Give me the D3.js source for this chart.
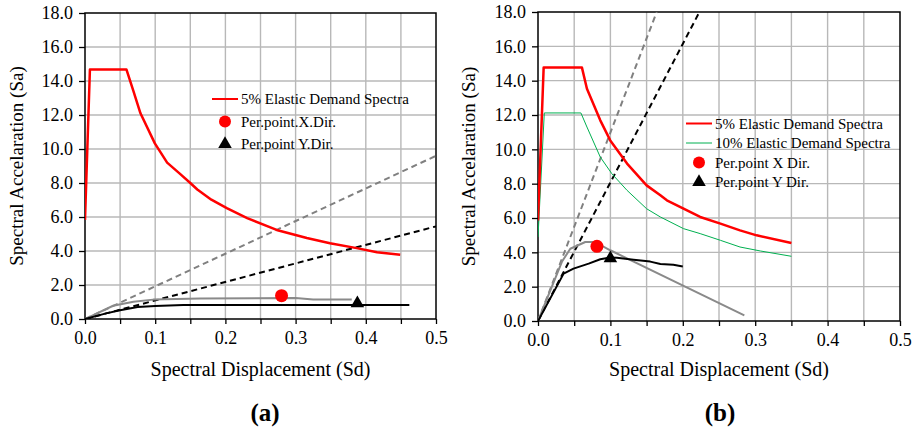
<!DOCTYPE html>
<html>
<head>
<meta charset="utf-8">
<script src="https://cdn.jsdelivr.net/npm/d3@7"></script>
<style>
  html, body { margin: 0; padding: 0; background: #fff; }
  svg { display: block; }
</style>
</head>
<body>
<svg id="chart" width="917" height="429" font-family="Liberation Serif"></svg>
<script>
const FONT = "Liberation Serif";

// ---- axis ticks ----
const xTicks = [0, 0.1, 0.2, 0.3, 0.4, 0.5];
const xGrid = [0.05, 0.1, 0.15, 0.2, 0.25, 0.3, 0.35, 0.4, 0.45];
const yTicks = [0, 2, 4, 6, 8, 10, 12, 14, 16, 18];

// ---- panel (a) ----
const demandA5 = [[0,5.83],[0.007,14.68],[0.059,14.68],[0.069,13.4],[0.079,12.1],[0.0995,10.33],
  [0.117,9.2],[0.135,8.55],[0.150,8.0],[0.160,7.62],[0.180,7.02],[0.202,6.52],[0.231,5.93],
  [0.273,5.24],[0.316,4.76],[0.349,4.46],[0.387,4.17],[0.416,3.93],[0.449,3.78]];
const capacityAX = [[0,0],[0.04,0.78],[0.069,1.02],[0.097,1.14],[0.164,1.21],[0.3,1.23],[0.325,1.15],[0.38,1.15]];
const capacityAY = [[0,0],[0.03,0.33],[0.05,0.52],[0.075,0.7],[0.1,0.76],[0.14,0.83],[0.462,0.83]];
const periodA1 = [[0,0],[0.5,9.6]];
const periodA2 = [[0,0],[0.5,5.45]];
const perfAX = [0.28, 1.37];
const perfAY = [0.388, 0.92];

// ---- panel (b) ----
const demandB5 = [[0,5.86],[0.0078,14.76],[0.0607,14.76],[0.0676,13.53],[0.086,11.69],[0.0998,10.52],
  [0.123,9.17],[0.150,7.9],[0.169,7.32],[0.178,7.03],[0.201,6.54],[0.224,6.06],[0.252,5.67],
  [0.279,5.28],[0.302,4.99],[0.350,4.54]];
const demandB10 = [[0,4.89],[0.0087,12.12],[0.0593,12.12],[0.0676,11.3],[0.086,9.55],[0.102,8.58],
  [0.123,7.61],[0.150,6.54],[0.169,6.06],[0.201,5.38],[0.224,5.09],[0.252,4.70],[0.279,4.31],
  [0.307,4.08],[0.350,3.77]];
const capacityBX = [[0,0],[0.033,3.45],[0.0446,4.21],[0.0653,4.6],[0.079,4.6],[0.0998,4.12],[0.285,0.33]];
const capacityBY = [[0,0],[0.0354,2.76],[0.049,3.05],[0.070,3.34],[0.086,3.6],[0.0998,3.7],[0.109,3.69],
  [0.132,3.57],[0.155,3.46],[0.169,3.32],[0.187,3.28],[0.2,3.18]];
const periodB1 = [[0,0],[0.164,18]];
const periodB2 = [[0,0],[0.223,18]];
const perfBX = [0.0814, 4.35];
const perfBY = [0.1, 3.65];

const legendA = ["5% Elastic Demand Spectra", "Per.point.X.Dir.", "Per.point Y.Dir."];
const legendB = ["5% Elastic Demand Spectra", "10% Elastic Demand Spectra", "Per.point X Dir.", "Per.point Y Dir."];

const svg = d3.select("#chart");

function panel(cfg) {
  const x = d3.scaleLinear().domain([0, 0.5]).range([cfg.x0, cfg.x1]);
  const y = d3.scaleLinear().domain([0, 18]).range([cfg.y0, cfg.y1]);
  const g = svg.append("g").attr("font-family", FONT);
  const clipId = "clip-" + cfg.id;
  svg.append("clipPath").attr("id", clipId).append("rect")
    .attr("x", cfg.x0).attr("y", cfg.y1).attr("width", cfg.x1 - cfg.x0).attr("height", cfg.y0 - cfg.y1);

  // grid
  g.selectAll(".vg").data(xGrid).join("line")
    .attr("x1", d => x(d)).attr("x2", d => x(d)).attr("y1", cfg.y0).attr("y2", cfg.y1)
    .attr("stroke", "#b8b8b8").attr("stroke-width", 1.4);
  g.selectAll(".hg").data(yTicks.slice(1, -1)).join("line")
    .attr("y1", d => y(d)).attr("y2", d => y(d)).attr("x1", cfg.x0).attr("x2", cfg.x1)
    .attr("stroke", "#b8b8b8").attr("stroke-width", 1.4);

  // axes
  const xAxis = d3.axisBottom(x).tickValues(d3.range(0, 0.501, 0.05)).tickSize(5).tickFormat(d => {
    const r = Math.round(d * 100) / 100;
    return xTicks.some(t => Math.abs(t - r) < 1e-6) ? r.toFixed(1) : "";
  });
  const yAxis = d3.axisLeft(y).tickValues(yTicks).tickSize(6).tickFormat(d => d.toFixed(1));
  const gx = g.append("g").attr("transform", `translate(0,${cfg.y0})`).call(xAxis);
  const gy = g.append("g").attr("transform", `translate(${cfg.x0},0)`).call(yAxis);
  [gx, gy].forEach(a => {
    a.attr("font-family", FONT).attr("font-size", 18);
    a.select(".domain").remove();
    a.selectAll(".tick line").attr("stroke", "#000").attr("stroke-width", 1.3);
    a.selectAll("text").attr("font-family", FONT).attr("font-size", 18).attr("fill", "#000");
  });
  gx.selectAll("text").attr("dy", "0.95em").attr("y", 8);
  gy.selectAll("text").attr("x", -12);

  // frame
  g.append("rect").attr("x", cfg.x0).attr("y", cfg.y1)
    .attr("width", cfg.x1 - cfg.x0).attr("height", cfg.y0 - cfg.y1)
    .attr("fill", "none").attr("stroke", "#000").attr("stroke-width", 1.5);

  const line = d3.line().x(d => x(d[0])).y(d => y(d[1]));
  const plot = g.append("g").attr("clip-path", `url(#${clipId})`);
  cfg.series.forEach(s => {
    plot.append("path").datum(s.data).attr("d", line)
      .attr("fill", "none").attr("stroke", s.color).attr("stroke-width", s.width)
      .attr("stroke-dasharray", s.dash || null).attr("stroke-linejoin", "round");
  });

  // performance points
  g.append("circle").attr("cx", x(cfg.px[0])).attr("cy", y(cfg.px[1])).attr("r", 6.5).attr("fill", "#ff0000");
  const tri = d3.symbol().type(d3.symbolTriangle).size(80);
  g.append("path").attr("d", tri).attr("transform", `translate(${x(cfg.py[0])},${y(cfg.py[1])})`).attr("fill", "#000");

  // legend
  const lg = g.append("g").attr("transform", `translate(${cfg.lx},${cfg.ly})`);
  cfg.legend.forEach((item, i) => {
    const yy = i * cfg.lstep;
    if (item.type === "line") {
      lg.append("line").attr("x1", 0).attr("x2", 26).attr("y1", yy).attr("y2", yy)
        .attr("stroke", item.color).attr("stroke-width", item.width);
    } else if (item.type === "circle") {
      lg.append("circle").attr("cx", 13).attr("cy", yy).attr("r", 6).attr("fill", "#ff0000");
    } else {
      lg.append("path").attr("d", tri).attr("transform", `translate(13,${yy})`).attr("fill", "#000");
    }
    lg.append("text").attr("x", 29).attr("y", yy).attr("dy", "0.35em")
      .attr("font-family", FONT).attr("font-size", 15).text(item.label);
  });

  // titles
  g.append("text").attr("x", (cfg.x0 + cfg.x1) / 2).attr("y", 376).attr("text-anchor", "middle")
    .attr("font-family", FONT).attr("font-size", 20).text("Spectral Displacement  (Sd)");
  g.append("text").attr("transform", `translate(${cfg.tyx},${(cfg.y0 + cfg.y1) / 2}) rotate(-90)`)
    .attr("text-anchor", "middle").attr("dy", "0.35em")
    .attr("font-family", FONT).attr("font-size", 19).text("Spectral Accelaration (Sa)");
  g.append("text").attr("x", cfg.labx).attr("y", 421).attr("text-anchor", "middle")
    .attr("font-family", FONT).attr("font-size", 25).attr("font-weight", "bold").text(cfg.label);
}

panel({
  id: "a", x0: 85, x1: 436, y0: 319, y1: 13, tyx: 16, labx: 265, label: "(a)",
  series: [
    { data: periodA1, color: "#808080", width: 2, dash: "6,4" },
    { data: periodA2, color: "#000", width: 2, dash: "6,4" },
    { data: capacityAX, color: "#8a8a8a", width: 2 },
    { data: capacityAY, color: "#000", width: 2 },
    { data: demandA5, color: "#ff0000", width: 2.5 }
  ],
  px: perfAX, py: perfAY,
  lx: 212, ly: 99, lstep: 22.5,
  legend: [
    { type: "line", color: "#ff0000", width: 2, label: legendA[0] },
    { type: "circle", label: legendA[1] },
    { type: "tri", label: legendA[2] }
  ]
});

panel({
  id: "b", x0: 538, x1: 900, y0: 321, y1: 12, tyx: 468, labx: 720, label: "(b)",
  series: [
    { data: periodB1, color: "#808080", width: 2, dash: "6,4" },
    { data: periodB2, color: "#000", width: 2, dash: "6,4" },
    { data: demandB10, color: "#00b050", width: 1 },
    { data: capacityBX, color: "#8a8a8a", width: 2 },
    { data: capacityBY, color: "#000", width: 2 },
    { data: demandB5, color: "#ff0000", width: 2.5 }
  ],
  px: perfBX, py: perfBY,
  lx: 686, ly: 123.5, lstep: 19.5,
  legend: [
    { type: "line", color: "#ff0000", width: 2, label: legendB[0] },
    { type: "line", color: "#00b050", width: 1, label: legendB[1] },
    { type: "circle", label: legendB[2] },
    { type: "tri", label: legendB[3] }
  ]
});
</script>
</body>
</html>
